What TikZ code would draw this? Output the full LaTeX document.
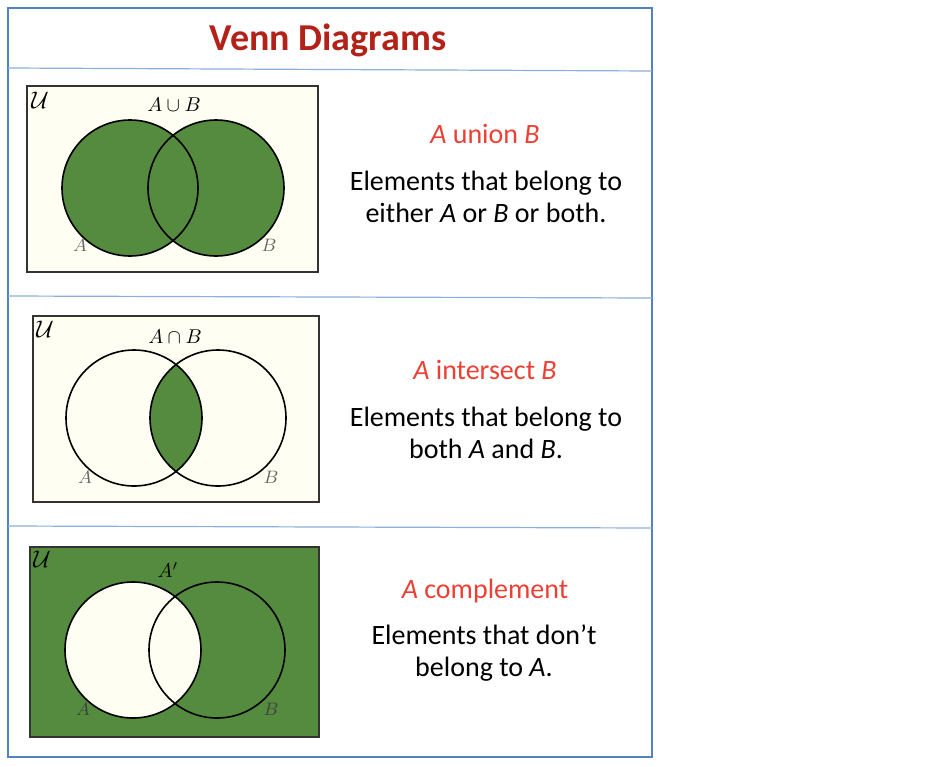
\documentclass[tikz,border=0pt]{standalone}
\usepackage{fontspec}
\setmainfont{Carlito}
\usepackage{amsmath,amssymb}
\usepackage{xcolor}
\usepackage{tikz}
\usetikzlibrary{positioning}
\definecolor{venngreen}{RGB}{84,139,62}
\definecolor{venncream}{RGB}{254,254,242}
\definecolor{boxblue}{RGB}{84,130,190}
\definecolor{sepblue}{RGB}{140,175,220}
\definecolor{titlered}{RGB}{178,34,24}
\definecolor{headred}{RGB}{236,64,52}
\tikzset{
  outerbox/.style={draw=boxblue,line width=0.6pt},
  sepline/.style={draw=sepblue,line width=0.6pt},
  panel/.style={draw=black!80,line width=1pt,fill=venncream},
  ring/.style={draw=black,line width=0.8pt},
  ttl/.style={text=titlered,font=\fontsize{19}{22}\selectfont\bfseries},
  hdr/.style={text=headred,font=\fontsize{14}{16}\selectfont},
  desc/.style={align=center,font=\fontsize{14}{16}\selectfont},
  setlbl/.style={inner sep=0pt,font=\fontsize{10}{11}\selectfont},
  unilbl/.style={inner sep=0pt,font=\fontsize{12}{13}\selectfont},
  cirlbl/.style={inner sep=0pt,text=black!60,font=\fontsize{9}{10}\selectfont},
}
\begin{document}
\begin{tikzpicture}[x=0.5pt,y=-0.5pt]
  \useasboundingbox (0,0) rectangle (936,766);
  \draw[outerbox] (8,8) rectangle (652,757);
  \draw[sepline] (8,68) -- (652,71);
  \draw[sepline] (8,296) -- (652,298);
  \draw[sepline] (8,526) -- (652,528);
  \node[ttl] (title) at (328,40) {Venn Diagrams};
  % union
  \draw[panel] (27,86) rectangle (318,272);
  \fill[venngreen] (130,188) circle (68) (216,188) circle (68);
  \draw[ring] (130,188) circle (68) (216,188) circle (68);
  \node[unilbl] (uU) at (40,100) {$\mathcal{U}$};
  \node[setlbl] (uLbl) at (174,105) {$A\cup B$};
  \node[cirlbl] (uA) at (80,245) {$A$};
  \node[cirlbl] (uB) at (269,245) {$B$};
  \node[hdr] (uHdr) at (485,134) {\textit{A} union \textit{B}};
  \node[desc] (uTxt) at (486,197) {Elements that belong to\\either \textit{A} or \textit{B} or both.};
  % intersection
  \draw[panel] (33,316) rectangle (319,502);
  \begin{scope}
    \clip (134,418) circle (68);
    \fill[venngreen] (218,418) circle (68);
  \end{scope}
  \draw[ring] (134,418) circle (68) (218,418) circle (68);
  \node[unilbl] (iU) at (45,329) {$\mathcal{U}$};
  \node[setlbl] (iLbl) at (175,337) {$A\cap B$};
  \node[cirlbl] (iA) at (85,477) {$A$};
  \node[cirlbl] (iB) at (271,477) {$B$};
  \node[hdr] (iHdr) at (485,370) {\textit{A} intersect \textit{B}};
  \node[desc] (iTxt) at (486,433) {Elements that belong to\\both \textit{A} and \textit{B}.};
  % complement
  \draw[panel,fill=venngreen] (30,547) rectangle (319,737);
  \fill[venncream] (133,650) circle (68);
  \draw[ring] (133,650) circle (68) (217,650) circle (68);
  \node[unilbl] (cU) at (42,559) {$\mathcal{U}$};
  \node[setlbl] (cLbl) at (168,570) {$A'$};
  \node[cirlbl,text=black!75] (cA) at (83,709) {$A$};
  \node[cirlbl,text=black!75] (cB) at (271,709) {$B$};
  \node[hdr] (cHdr) at (485,591) {\textit{A} complement};
  \node[desc] (cTxt) at (484,653) {Elements that don’t\\belong to \textit{A}.};
\end{tikzpicture}
\end{document}
